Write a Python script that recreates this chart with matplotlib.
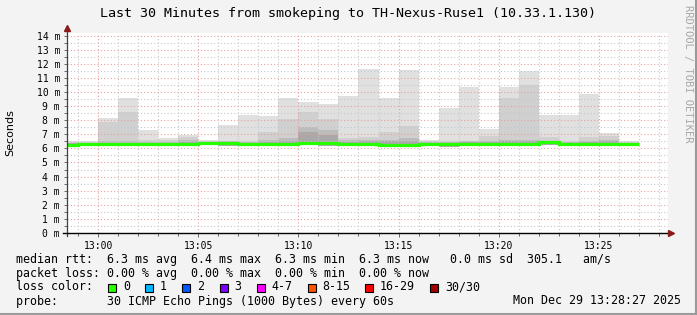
import matplotlib
matplotlib.use("Agg")
import matplotlib.pyplot as plt
from matplotlib.patches import Rectangle
from matplotlib.ticker import MultipleLocator, FixedLocator

plt.rcParams['font.family'] = ['DejaVu Sans Mono']

# minutes relative to 13:00, each sample covers one minute
minutes = list(range(-2, 27))
# smoke layers (ms), outer to inner
smoke_max = [6.5, 6.5, 8.13, 9.55, 7.31, 6.74, 6.98, 6.58, 7.64, 8.37, 8.27, 9.55, 9.29, 9.15,
             9.71, 11.62, 9.55, 11.53, 6.58, 8.86, 10.35, 7.35, 10.35, 11.48, 8.39, 8.39, 9.86, 7.07, 6.53]
smoke_mid = [6.45, 6.45, 7.85, 8.56, 6.6, 6.6, 6.8, 6.5, 6.55, 6.5, 7.16, 8.11, 8.58, 8.11,
             6.77, 6.8, 7.16, 7.57, 6.5, 6.5, 6.5, 6.86, 9.57, 10.47, 6.8, 6.5, 6.78, 6.86, 6.45]
smoke_dark = [6.4, 6.4, 6.5, 6.55, 6.45, 6.45, 6.6, 6.45, 6.5, 6.45, 6.6, 6.7, 7.52, 7.33,
              6.58, 6.6, 6.6, 6.75, 6.45, 6.45, 6.5, 6.55, 6.6, 6.6, 6.5, 6.45, 6.55, 6.6, 6.4]
smoke_core = [6.35, 6.35, 6.4, 6.4, 6.4, 6.4, 6.45, 6.45, 6.45, 6.4, 6.45, 6.5, 7.16, 6.93,
              6.45, 6.5, 6.5, 6.55, 6.4, 6.4, 6.45, 6.45, 6.5, 6.5, 6.45, 6.4, 6.45, 6.5, 6.35]
smoke_min = [6.15, 6.2, 6.2, 6.2, 6.2, 6.2, 6.25, 6.25, 6.2, 6.2, 6.2, 6.25, 6.25, 6.2,
             6.2, 6.2, 6.1, 6.1, 6.2, 6.1, 6.2, 6.2, 6.2, 6.2, 6.25, 6.2, 6.2, 6.2, 6.2]
median = [6.24, 6.32, 6.32, 6.32, 6.32, 6.32, 6.32, 6.4, 6.4, 6.32, 6.32, 6.32, 6.4, 6.4,
          6.32, 6.32, 6.27, 6.27, 6.32, 6.3, 6.32, 6.32, 6.32, 6.32, 6.43, 6.32, 6.32, 6.32, 6.32]

x_ticks = [0, 5, 10, 15, 20, 25]
x_labels = ['13:00', '13:05', '13:10', '13:15', '13:20', '13:25']
y_ticks = list(range(0, 15))
y_labels = [f'{v} m' for v in y_ticks]

loss_labels = ['0', '1', '2', '3', '4-7', '8-15', '16-29', '30/30']
loss_colors = ['#26ff00', '#00b8ff', '#0059ff', '#7e00ff', '#ff00ff', '#ff5500', '#ff0000', '#a00000']

W, H = 697, 315
def fx(px):
    return px / W
def fy(py):
    return 1 - py / H

fig = plt.figure(figsize=(W / 100, H / 100), dpi=100)
fig.patch.set_facecolor('#f3f3f3')

ax = fig.add_axes([fx(67), fy(233), (668 - 67) / W, (233 - 32.7) / H])
ax.set_facecolor('white')

layers = [(smoke_max, '#e0e0e0'), (smoke_mid, '#d0d0d0'), (smoke_dark, '#bcbcbc'), (smoke_core, '#a9a9a9')]
for top, col in layers:
    heights = [t - b for t, b in zip(top, smoke_min)]
    ax.bar(minutes, heights, bottom=smoke_min, width=1.0, align='edge', color=col, linewidth=0)

edges = minutes + [minutes[-1] + 1]
ax.stairs(median, edges, color=loss_colors[0], linewidth=2.3, baseline=None, zorder=3)

ax.set_xlim(-1.55, 28.45)
ax.set_ylim(0, 14.2)

ax.xaxis.set_major_locator(FixedLocator(x_ticks))
ax.set_xticklabels(x_labels)
ax.xaxis.set_minor_locator(MultipleLocator(1))
ax.yaxis.set_major_locator(FixedLocator(y_ticks))
ax.set_yticklabels(y_labels)
ax.yaxis.set_minor_locator(MultipleLocator(0.5))

ax.grid(which='minor', color='#c8c8c8', linestyle=(0, (1, 2)), linewidth=0.8)
ax.grid(which='major', color='#e8a0a0', linestyle=(0, (1, 2)), linewidth=0.8)

ax.tick_params(which='both', length=2, width=0.6, color='#555555', labelsize=7, pad=3)
ax.tick_params(axis='x', which='major', length=3)
for s in ax.spines.values():
    s.set_visible(False)

# axes with arrows
ax.plot([0, 0], [-0.015, 1.02], transform=ax.transAxes, color='#404040', lw=0.9, clip_on=False, zorder=5)
ax.plot([-0.007, 1.0], [0, 0], transform=ax.transAxes, color='#000000', lw=1.0, clip_on=False, zorder=5)
ax.plot([0], [1.025], marker='^', markersize=4.5, color='#8b1a1a', transform=ax.transAxes, clip_on=False, zorder=6)
ax.plot([1.005], [0], marker='>', markersize=4.5, color='#8b1a1a', transform=ax.transAxes, clip_on=False, zorder=6)

ax.set_ylabel('Seconds', family='DejaVu Sans', fontsize=8)
ax.yaxis.set_label_coords((15 - 67) / 601, 0.5)

fig.text(0.5, fy(13), 'Last 30 Minutes from smokeping to TH-Nexus-Ruse1 (10.33.1.130)',
         ha='center', va='center', fontsize=9.6)
fig.text(fx(688), fy(5), 'RRDTOOL / TOBI OETIKER', rotation=-90, ha='center', va='top',
         fontsize=7.5, color='#a8a8a8')

legend_fs = 8.37
line1 = 'median rtt:  6.3 ms avg  6.4 ms max  6.3 ms min  6.3 ms now   0.0 ms sd  305.1   am/s'
line2 = 'packet loss: 0.00 % avg  0.00 % max  0.00 % min  0.00 % now'
line4 = 'probe:       30 ICMP Echo Pings (1000 Bytes) every 60s'
fig.text(fx(16), fy(259), line1, ha='left', va='center', fontsize=legend_fs)
fig.text(fx(16), fy(273), line2, ha='left', va='center', fontsize=legend_fs)
fig.text(fx(16), fy(287), 'loss color:', ha='left', va='center', fontsize=legend_fs)
fig.text(fx(16), fy(301), line4, ha='left', va='center', fontsize=legend_fs)
fig.text(fx(681), fy(301), 'Mon Dec 29 13:28:27 2025', ha='right', va='center', fontsize=legend_fs)

sq_x = [108, 145, 182, 219.5, 256.5, 307.5, 365, 430]
for px, lab, col in zip(sq_x, loss_labels, loss_colors):
    fig.patches.append(Rectangle((fx(px), fy(291.5)), 8 / W, 8 / H, transform=fig.transFigure,
                                 facecolor=col, edgecolor='black', linewidth=0.8))
    fig.text(fx(px + 15), fy(287), lab, ha='left', va='center', fontsize=legend_fs)

# 3D-ish frame
fig.add_artist(plt.Line2D([0, 1], [fy(314), fy(314)], transform=fig.transFigure, color='#9a9a9a', lw=1.5))
fig.add_artist(plt.Line2D([fx(696), fx(696)], [0, 1], transform=fig.transFigure, color='#9a9a9a', lw=1.5))

fig.savefig('out.png', dpi=100, facecolor=fig.get_facecolor())
